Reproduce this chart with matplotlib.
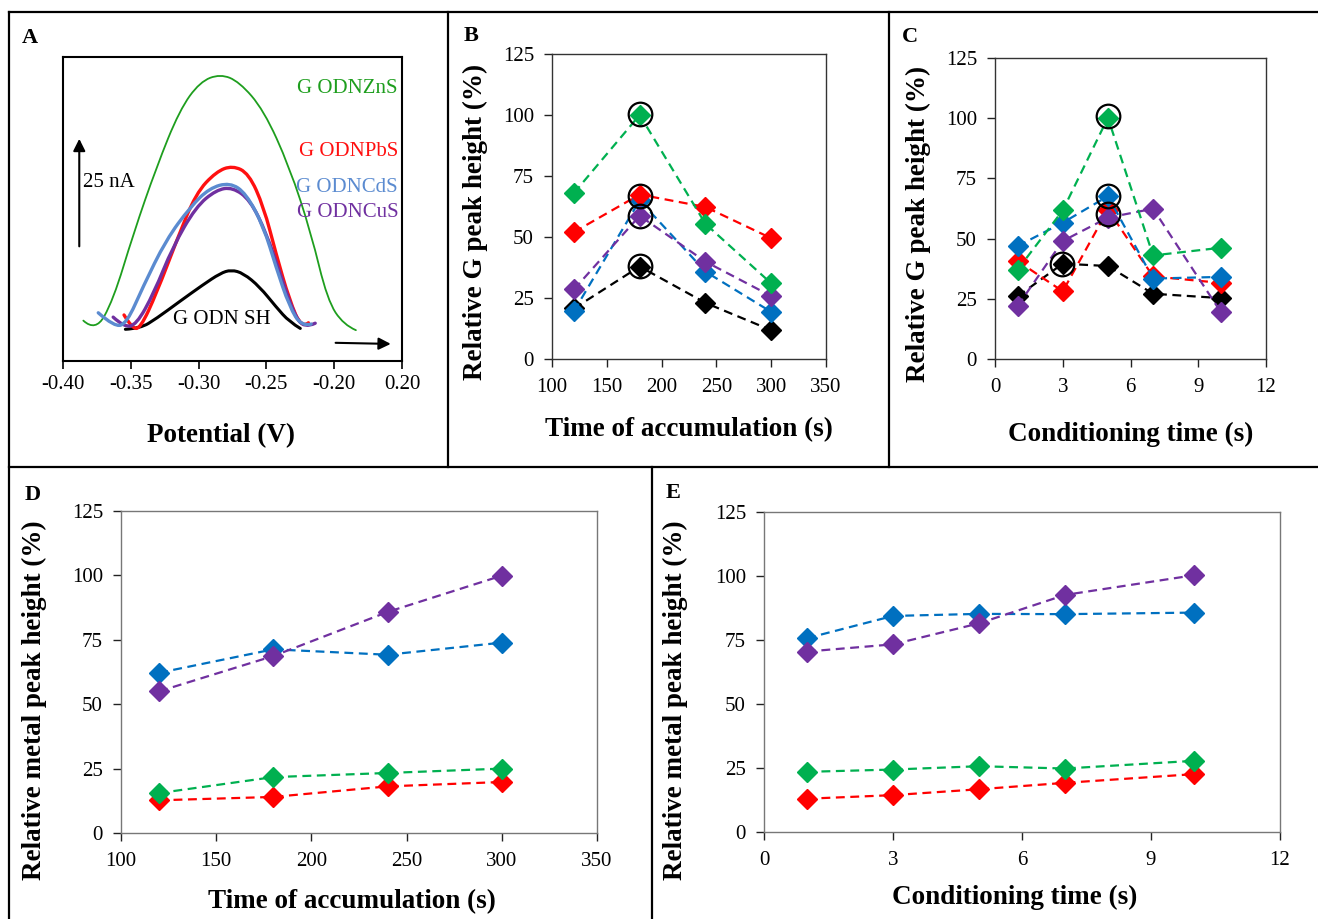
import matplotlib.pyplot as plt
from matplotlib.lines import Line2D
from matplotlib.path import Path
from matplotlib.patches import PathPatch

plt.rcParams['font.family'] = ['Liberation Serif', 'DejaVu Serif']
plt.rcParams['axes.unicode_minus'] = False

W, H = 1318, 919

# ---- panel A: voltammograms (potential V, current nA) ----
zns_v = [-0.385, -0.376, -0.363, -0.348, -0.331, -0.314, -0.299, -0.284, -0.270,
         -0.252, -0.233, -0.217, -0.205, -0.193, -0.184]
zns_i = [9.3, 6.7, 14.0, 29.4, 44.7, 57.8, 64.3, 66.1, 64.3, 57.8, 44.7, 29.4, 14.0, 8.3, 7.1]
pbs_v = [-0.355, -0.349, -0.343, -0.331, -0.316, -0.302, -0.287, -0.275, -0.263,
         -0.252, -0.243, -0.233, -0.224, -0.219]
pbs_i = [10.6, 7.5, 7.5, 15.6, 27.9, 38.6, 43.6, 45.0, 43.2, 35.5, 24.8, 14.0, 7.5, 8.8]
cds_v = [-0.374, -0.362, -0.353, -0.341, -0.324, -0.306, -0.292, -0.277, -0.265,
         -0.252, -0.243, -0.233, -0.224, -0.217]
cds_i = [11.1, 7.8, 8.7, 17.1, 27.9, 35.5, 39.8, 41.1, 38.6, 30.9, 21.7, 12.5, 7.9, 8.5]
cus_v = [-0.363, -0.355, -0.346, -0.333, -0.319, -0.302, -0.287, -0.275, -0.262,
         -0.250, -0.240, -0.230, -0.222, -0.214]
cus_i = [10.1, 7.8, 8.3, 15.6, 26.3, 35.5, 39.4, 40.0, 37.1, 29.4, 20.2, 11.0, 7.5, 8.7]
sh_v = [-0.354, -0.343, -0.331, -0.314, -0.297, -0.284, -0.276, -0.267, -0.255,
        -0.243, -0.233, -0.225]
sh_i = [7.3, 7.5, 9.8, 13.7, 17.5, 20.2, 21.0, 20.2, 17.1, 12.5, 9.0, 7.5]
a_ticks = [-0.40, -0.35, -0.30, -0.25, -0.20, -0.15]
a_ticklabels = ['-0.40', '-0.35', '-0.30', '-0.25', '-0.20', '0.20']

# ---- panels B-E ----
acc_time = [120, 180, 240, 300]
cond_time = [1, 3, 5, 7, 10]

b_green = [68.0, 100.0, 55.4, 31.0]
b_red = [52.0, 67.4, 62.3, 49.5]
b_blue = [19.6, 65.0, 35.8, 19.3]
b_purple = [28.5, 58.7, 39.9, 25.8]
b_black = [20.7, 37.9, 23.0, 11.8]
b_circ_x = [180, 180, 180, 180]
b_circ_y = [100.5, 66.7, 58.7, 38.3]

c_green = [37.1, 61.7, 100.2, 43.0, 46.2]
c_red = [40.7, 28.1, 62.0, 34.3, 31.6]
c_blue = [46.9, 56.6, 67.6, 33.4, 34.1]
c_purple = [22.0, 49.0, 58.7, 62.4, 19.5]
c_black = [26.0, 39.6, 38.6, 27.1, 25.3]
c_circ_x = [5, 5, 5, 2.96]
c_circ_y = [100.8, 67.6, 60.1, 39.6]

d_blue = [62.2, 71.3, 69.2, 73.9]
d_purple = [55.0, 68.7, 85.8, 99.9]
d_green = [15.5, 21.7, 23.3, 25.0]
d_red = [12.7, 14.0, 18.1, 19.8]

e_blue = [75.7, 84.4, 85.2, 85.1, 85.7]
e_purple = [70.5, 73.3, 81.5, 92.6, 100.3]
e_green = [23.5, 24.4, 25.7, 24.8, 27.8]
e_red = [13.0, 14.4, 16.7, 19.2, 22.6]

GREEN, RED, BLUE, PURPLE, BLACK = '#00B050', '#FF0000', '#0070C0', '#7030A0', '#000000'
TICK_FS, LAB_FS = 15, 19.5

fig = plt.figure(figsize=(W / 100, H / 100), dpi=100)


def px_axes(x0, y0, x1, y1):
    return fig.add_axes([x0 / W, 1 - y1 / H, (x1 - x0) / W, (y1 - y0) / H])


def fig_line(xs, ys, lw=1.6):
    fig.add_artist(Line2D([x / W for x in xs], [1 - y / H for y in ys],
                          color='black', lw=lw, transform=fig.transFigure))


def letter(x, y, s):
    fig.text(x / W, 1 - y / H, s, fontsize=16, fontweight='bold', ha='center', va='center')


def smooth_curve(ax, xs, ys, color, lw):
    # quadratic bezier through the midpoints, read points act as control points
    pts = list(zip(xs, ys))
    verts = [pts[0]]
    codes = [Path.MOVETO]
    for i in range(1, len(pts) - 1):
        mid = ((pts[i][0] + pts[i + 1][0]) / 2, (pts[i][1] + pts[i + 1][1]) / 2)
        if i == len(pts) - 2:
            mid = pts[-1]
        verts += [pts[i], mid]
        codes += [Path.CURVE3, Path.CURVE3]
    ax.add_patch(PathPatch(Path(verts, codes), fill=False, edgecolor=color, lw=lw,
                           capstyle='round', joinstyle='round'))


# panel frames
fig_line([9, 1318], [12, 12])
fig_line([9, 1318], [467, 467])
fig_line([9, 9], [12, 919])
fig_line([448, 448], [12, 467])
fig_line([889, 889], [12, 467])
fig_line([652, 652], [467, 919])

# ---- A ----
ax = px_axes(63, 57, 402, 361)
smooth_curve(ax, zns_v, zns_i, '#1E9E1E', 1.3)
smooth_curve(ax, sh_v, sh_i, 'black', 2.2)
smooth_curve(ax, pbs_v, pbs_i, '#FF1010', 2.4)
smooth_curve(ax, cus_v, cus_i, '#7030A0', 2.4)
smooth_curve(ax, cds_v, cds_i, '#5B8BD0', 2.4)
ax.set_xlim(-0.40, -0.15)
ax.set_ylim(0, 70)
ax.set_xticks(a_ticks)
ax.set_xticklabels(a_ticklabels)
ax.set_yticks([])
ax.tick_params(axis='x', direction='out', length=6, width=1.2, labelsize=TICK_FS, pad=4)
for sp in ax.spines.values():
    sp.set_linewidth(1.5)
ax.set_xlabel('Potential (V)', fontsize=LAB_FS, fontweight='bold')
ax.xaxis.set_label_coords(0.466, -0.247)
ax.xaxis.label.set_va('center')
ax.text(0.988, 0.895, 'G ODNZnS', color='#1E9E1E', fontsize=15, ha='right', va='center', transform=ax.transAxes)
ax.text(0.988, 0.6875, 'G ODNPbS', color='#FF1010', fontsize=15, ha='right', va='center', transform=ax.transAxes)
ax.text(0.988, 0.572, 'G ODNCdS', color='#5B8BD0', fontsize=15, ha='right', va='center', transform=ax.transAxes)
ax.text(0.99, 0.487, 'G ODNCuS', color='#7030A0', fontsize=15, ha='right', va='center', transform=ax.transAxes)
ax.text(0.469, 0.138, 'G ODN SH', color='black', fontsize=15, ha='center', va='center', transform=ax.transAxes)
ax.text(0.059, 0.586, '25 nA', color='black', fontsize=15, ha='left', va='center', transform=ax.transAxes)
ax.annotate('', xy=(0.048, 0.74), xytext=(0.048, 0.368), xycoords='axes fraction',
            arrowprops=dict(arrowstyle='-|>', color='black', lw=1.5, mutation_scale=18))
ax.annotate('', xy=(0.975, 0.056), xytext=(0.796, 0.06), xycoords='axes fraction',
            arrowprops=dict(arrowstyle='-|>', color='black', lw=1.5, mutation_scale=18))
letter(30, 38, 'A')


def series_panel(ax, x, series, xlim, xticks, xlabel, ylabel, xl_pos, yl_pos, spine_col):
    for vals, col in series:
        ax.plot(x, vals, ls=(0, (4, 2.5)), lw=1.6, color=col, marker='D', ms=10.5,
                mfc=col, mec=col)
    ax.set_xlim(*xlim)
    ax.set_xticks(xticks)
    ax.set_ylim(0, 125)
    ax.set_yticks([0, 25, 50, 75, 100, 125])
    ax.tick_params(direction='out', length=6, width=1.0, labelsize=TICK_FS,
                   colors='#222222', labelcolor='black')
    ax.tick_params(axis='x', pad=8)
    ax.tick_params(axis='y', pad=7)
    for sp in ax.spines.values():
        sp.set_linewidth(1.0)
        sp.set_color(spine_col)
    ax.set_xlabel(xlabel, fontsize=LAB_FS, fontweight='bold')
    ax.set_ylabel(ylabel, fontsize=LAB_FS, fontweight='bold')
    ax.xaxis.set_label_coords(*xl_pos)
    ax.yaxis.set_label_coords(*yl_pos)
    ax.xaxis.label.set_va('center')
    ax.yaxis.label.set_va('center')


def circles(ax, xs, ys):
    ax.plot(xs, ys, 'o', ms=17, mfc='none', mec='black', mew=1.6)


# ---- B ----
ax = px_axes(552, 54, 826, 359)
series_panel(ax, acc_time, [(b_black, BLACK), (b_blue, BLUE), (b_purple, PURPLE), (b_red, RED), (b_green, GREEN)],
             (100, 350), [100, 150, 200, 250, 300, 350], 'Time of accumulation (s)',
             'Relative G peak height (%)', (0.5, -0.233), (-0.28, 0.449), '#333333')
circles(ax, b_circ_x, b_circ_y)
letter(471, 36, 'B')

# ---- C ----
ax = px_axes(995, 58, 1266, 359)
series_panel(ax, cond_time, [(c_black, BLACK), (c_red, RED), (c_blue, BLUE), (c_purple, PURPLE), (c_green, GREEN)],
             (0, 12), [0, 3, 6, 9, 12], 'Conditioning time (s)',
             'Relative G peak height (%)', (0.5, -0.252), (-0.284, 0.449), '#333333')
circles(ax, c_circ_x, c_circ_y)
letter(910, 37, 'C')

# ---- D ----
ax = px_axes(121, 511, 597, 833)
series_panel(ax, acc_time, [(d_red, RED), (d_green, GREEN), (d_blue, BLUE), (d_purple, PURPLE)],
             (100, 350), [100, 150, 200, 250, 300, 350], 'Time of accumulation (s)',
             'Relative metal peak height (%)', (0.485, -0.214), (-0.181, 0.413), '#777777')
letter(33, 495, 'D')

# ---- E ----
ax = px_axes(764, 512, 1280, 832)
series_panel(ax, cond_time, [(e_red, RED), (e_green, GREEN), (e_blue, BLUE), (e_purple, PURPLE)],
             (0, 12), [0, 3, 6, 9, 12], 'Conditioning time (s)',
             'Relative metal peak height (%)', (0.486, -0.203), (-0.171, 0.4125), '#777777')
letter(673, 493, 'E')

fig.savefig('out.png', dpi=100)
